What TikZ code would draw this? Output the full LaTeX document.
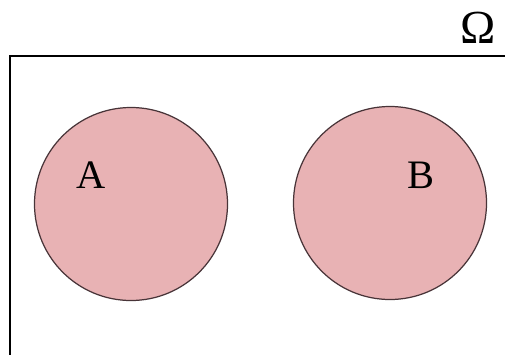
\documentclass[tikz,border=0pt]{standalone}
\usepackage{fontspec}
\setmainfont{Liberation Serif}
\definecolor{setpink}{RGB}{232,178,180}
\definecolor{setedge}{RGB}{72,52,56}
\tikzset{
  event/.style={circle, draw=setedge, fill=setpink, line width=0.7pt, minimum size=38.6mm, inner sep=0pt},
  lbl/.style={font=\fontsize{23}{25}\selectfont, inner sep=0pt}
}
\begin{document}
\begin{tikzpicture}[x=0.2mm, y=-0.2mm]
    \useasboundingbox (0,0) rectangle (505,354);
    \clip (0,0) rectangle (505,354);
    % sample space, runs off the page on the right and bottom
    \draw[line width=0.7pt] (10,56) rectangle (530,380);
    \node[lbl, font=\fontsize{27}{29}\selectfont] (omega) at (478,28) {Ω};
    % the two disjoint events
    \node[event] (setA) at (131,204) {};
    \node[event] (setB) at (390,203) {};
    \node[lbl] (labA) at (91,175) {A};
    \node[lbl] (labB) at (421,175) {B};
\end{tikzpicture}
\end{document}
